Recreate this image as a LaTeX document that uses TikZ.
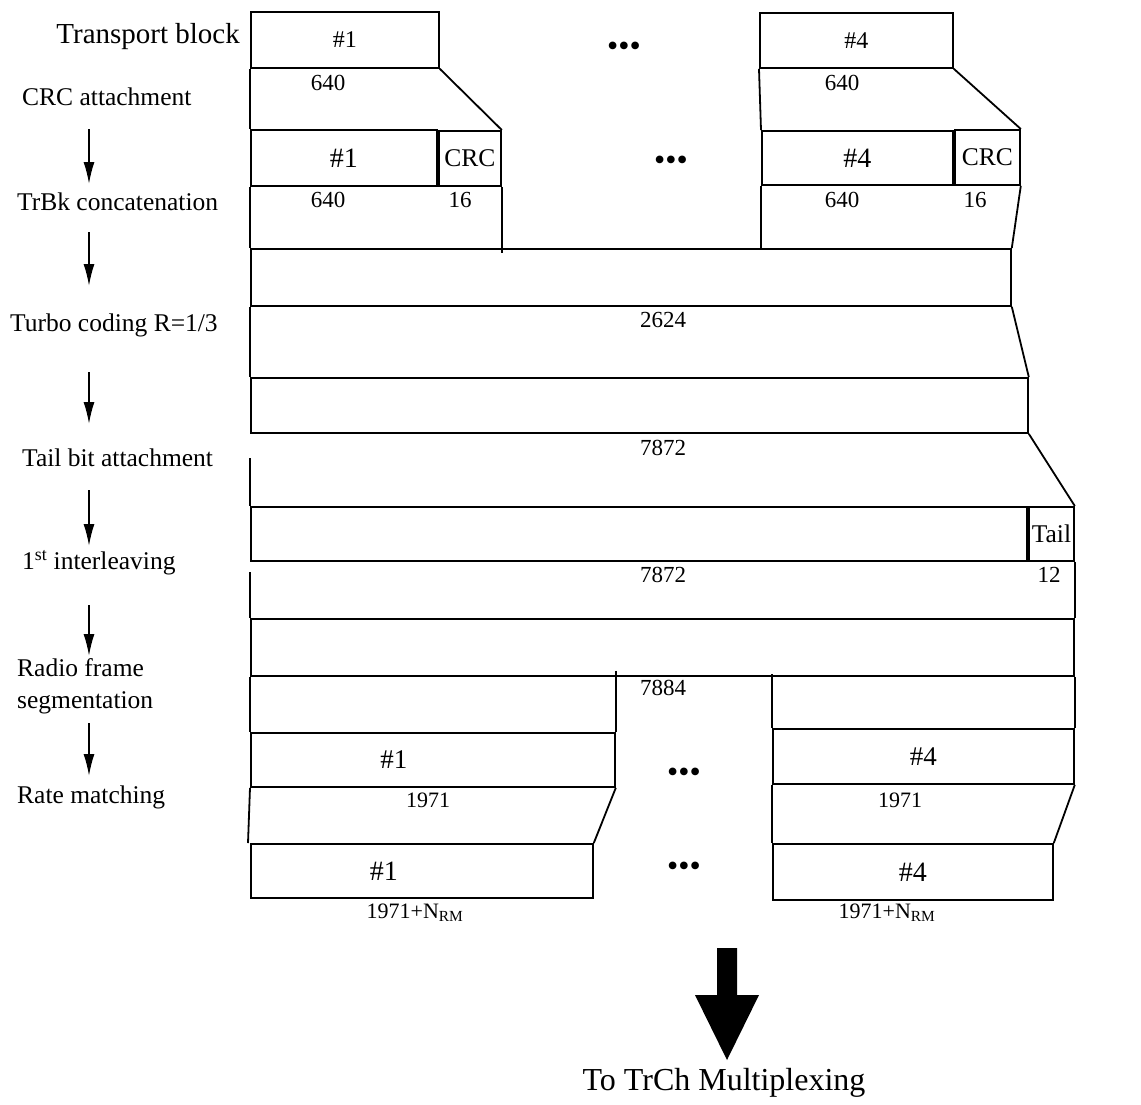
\documentclass[tikz,border=0pt]{standalone}
\usepackage{fontspec}
\setmainfont{Liberation Serif}
\usetikzlibrary{arrows.meta}
\newcommand\fsz[1]{\fontsize{#1pt}{#1pt}\selectfont}
\newcommand\fszl[2]{\fontsize{#1pt}{#2pt}\selectfont}

\begin{document}
\begin{tikzpicture}[x=1pt,y=-1pt,
    >={Latex[length=22pt,width=11pt]},
    blk/.style={draw,line width=1.8pt,inner sep=0pt,anchor=north west},
    lnk/.style={line width=1.8pt},
    flow/.style={->,line width=1.6pt},
    lbl/.style={inner sep=0pt,anchor=west,font=\fsz{25.5}},
    num/.style={inner sep=0pt,font=\fsz{23}},
    dots/.style={inner sep=0pt,font=\fsz{32}}]

    \useasboundingbox (0,0) rectangle (1141,1104);

    % step names on the left
    \node[inner sep=0pt,anchor=east,font=\fsz{29}] (Ltb) at (240,37) {Transport block};
    \node[lbl] (Lcrc) at (22,97) {CRC attachment};
    \node[lbl] (Lcat) at (17,202) {TrBk concatenation};
    \node[lbl] (Lturbo) at (10,325) {Turbo coding R=1/3};
    \node[lbl] (Ltail) at (22,458) {Tail bit attachment};
    \node[lbl] (Lintl) at (22,563) {1\textsuperscript{st} interleaving};
    \node[lbl,align=left,font=\fszl{25.5}{32}] (Lseg) at (17,686) {Radio frame\\segmentation};
    \node[lbl] (Lrm) at (17,797) {Rate matching};

    \foreach \i/\ya/\yb in {1/129/184,2/232/286,3/372/424,4/490/546,5/605/656,6/723/776}{
        \coordinate (s\i) at (89,\ya);
        \coordinate (e\i) at (89,\yb);
        \draw[flow] (s\i) -- (e\i);
    }

    % transport blocks
    \node[blk,minimum width=188pt,minimum height=56pt,font=\fsz{24}] (tbA) at (250,11) {\#1};
    \node[blk,minimum width=193pt,minimum height=55pt,font=\fsz{24}] (tbB) at (759,12) {\#4};
    \node[dots] (dA) at (624,49) {•••};
    \node[num] (nA1) at (328,83) {640};
    \node[num] (nB1) at (842,83) {640};

    % CRC attached
    \node[blk,minimum width=186pt,minimum height=56pt,font=\fsz{28}] (crA) at (250,129) {\#1};
    \node[blk,minimum width=62pt,minimum height=55pt,font=\fsz{25.5}] (crcA) at (438,130) {CRC};
    \node[blk,minimum width=191pt,minimum height=54pt,font=\fsz{28}] (crB) at (761,130) {\#4};
    \node[blk,minimum width=65pt,minimum height=55pt,font=\fsz{25.5}] (crcB) at (954,129) {CRC};
    \node[dots] (dB) at (671,163) {•••};
    \draw[lnk] (tbA.south west) -- (crA.north west);
    \draw[lnk] (tbA.south east) -- (crcA.north east);
    \draw[lnk] (tbB.south west) -- (crB.north west);
    \draw[lnk] (tbB.south east) -- (crcB.north east);
    \node[num] (nA2) at (328,200) {640};
    \node[num] (nA3) at (460,200) {16};
    \node[num] (nB2) at (842,200) {640};
    \node[num] (nB3) at (975,200) {16};

    % concatenated
    \node[blk,minimum width=760pt,minimum height=57pt] (cat) at (250,248) {};
    \draw[lnk] (crA.south west) -- (cat.north west);
    \draw[lnk] (crcA.south east) -- ([yshift=-5pt]crcA.south east |- cat.north);
    \draw[lnk] (crB.south west) -- (crB.south west |- cat.north);
    \draw[lnk] (crcB.south east) -- (cat.north east);
    \node[num] (n2624) at (663,320) {2624};

    % turbo coded
    \node[blk,minimum width=777pt,minimum height=55pt] (turbo) at (250,377) {};
    \draw[lnk] (cat.south west) -- (turbo.north west);
    \draw[lnk] (cat.south east) -- (turbo.north east);
    \node[num] (n7872a) at (663,448) {7872};

    % tail bits
    \coordinate (gapA) at (250,458);
    \node[blk,minimum width=776pt,minimum height=54pt] (tailbody) at (250,506) {};
    \node[blk,minimum width=45pt,minimum height=54pt,font=\fsz{25.5}] (tailbit) at (1028,506) {Tail};
    \draw[lnk] (gapA) -- (tailbody.north west);
    \draw[lnk] (turbo.south east) -- (tailbit.north east);
    \node[num] (n7872b) at (663,575) {7872};
    \node[num] (n12) at (1049,575) {12};

    % interleaved
    \coordinate (gapB) at (250,572);
    \node[blk,minimum width=823pt,minimum height=57pt] (intl) at (250,618) {};
    \draw[lnk] (gapB) -- (intl.north west);
    \draw[lnk] (tailbit.south east) -- (intl.north east);
    \node[num] (n7884) at (663,688) {7884};

    % radio frames
    \node[blk,minimum width=364pt,minimum height=54pt,font=\fsz{27}] (seg1) at (250,732) {\#1\hspace*{78pt}};
    \node[blk,minimum width=301pt,minimum height=55pt,font=\fsz{27}] (seg4) at (772,728) {\#4};
    \node[dots] (dC) at (684,775) {•••};
    \draw[lnk] (intl.south west) -- (seg1.north west);
    \draw[lnk] ([yshift=6pt]seg1.north east |- intl.south) -- (seg1.north east);
    \draw[lnk] ([yshift=3pt]seg4.north west |- intl.south) -- (seg4.north west);
    \draw[lnk] (intl.south east) -- (seg4.north east);
    \node[num,font=\fsz{22}] (n1971a) at (428,800) {1971};
    \node[num,font=\fsz{22}] (n1971b) at (900,800) {1971};

    % rate matched
    \node[blk,minimum width=342pt,minimum height=54pt,font=\fsz{28}] (rm1) at (250,843) {\#1\hspace*{76pt}};
    \node[blk,minimum width=280pt,minimum height=56pt,font=\fsz{28}] (rm4) at (772,843) {\#4};
    \node[dots] (dD) at (684,869) {•••};
    \draw[lnk] (seg1.south west) -- ([xshift=-2pt]rm1.north west);
    \draw[lnk] (seg1.south east) -- (rm1.north east);
    \draw[lnk] (seg4.south west) -- (rm4.north west);
    \draw[lnk] (seg4.south east) -- (rm4.north east);
    \node[num,font=\fsz{22}] (nrm1) at (415,913) {1971+N\textsubscript{RM}};
    \node[num,font=\fsz{22}] (nrm4) at (887,913) {1971+N\textsubscript{RM}};

    % to multiplexing
    \fill (717,948) -- (737,948) -- (737,995) -- (759,995) -- (727,1060)
        -- (695,995) -- (717,995) -- cycle;
    \node[inner sep=0pt,font=\fsz{32}] (tomux) at (724,1083) {To TrCh Multiplexing};

\end{tikzpicture}
\end{document}
